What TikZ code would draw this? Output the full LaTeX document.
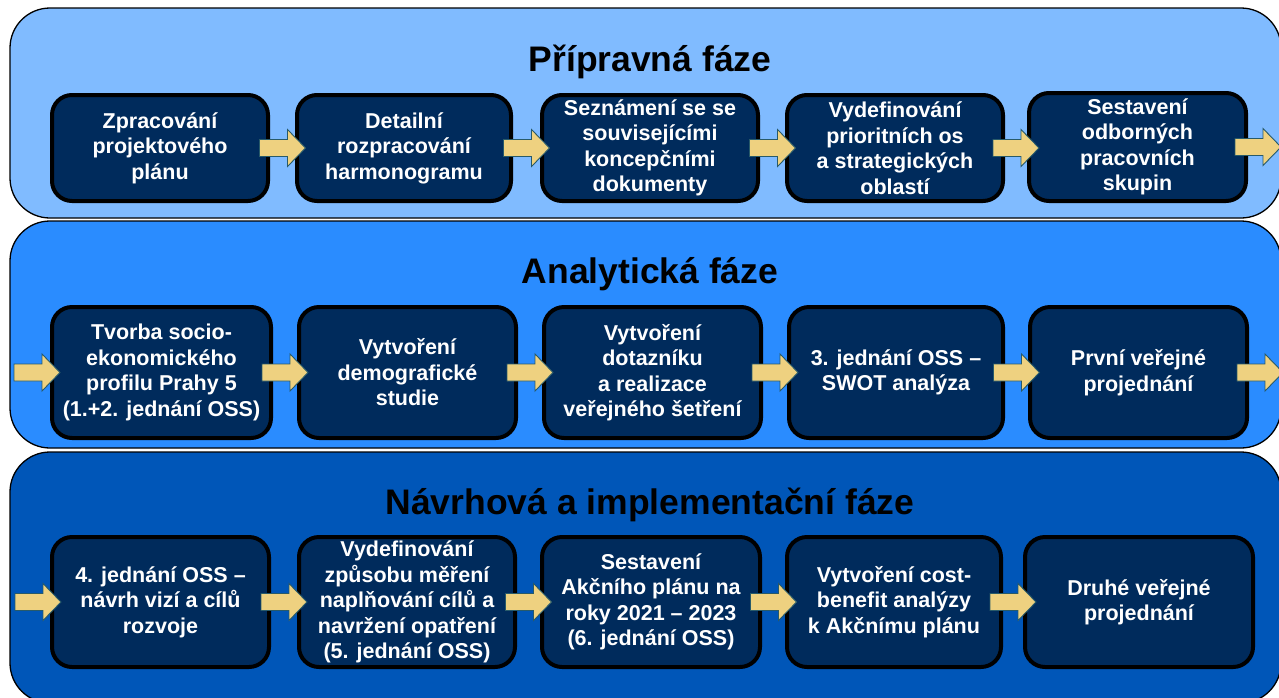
\documentclass[tikz,border=0pt]{standalone}
\usepackage{fontspec}
\setmainfont{Liberation Sans}
\usetikzlibrary{calc}
\definecolor{bandA}{RGB}{128,187,255}
\definecolor{bandB}{RGB}{42,140,255}
\definecolor{bandC}{RGB}{0,86,184}
\definecolor{boxfill}{RGB}{0,43,92}
\definecolor{arrowfill}{RGB}{238,209,128}
\definecolor{arrowline}{RGB}{40,90,105}
\newcommand\boxfont{\fontsize{21.5}{25.5}\selectfont\bfseries}
\newcommand\titlefont{\fontsize{35.5}{40}\selectfont\bfseries}
\tikzset{
 band/.style={draw=black, line width=1.3pt, rounded corners=40pt},
 stepbox/.style={draw=black, line width=4pt, fill=boxfill, rounded corners=20pt, text=white, font=\boxfont, align=center, inner sep=0pt},
 phasetitle/.style={font=\titlefont, text=black, anchor=base},
 flowarrow/.style={fill=arrowfill, draw=arrowline, line width=0.9pt, line join=miter},
}
\newcommand\flow[2]{%
 \draw[flowarrow] let \p1=(#1), \p2=(#2), \p3=($(\p1)!0.5!(\p2)$) in
 (\x3-23pt,\y1+8.5pt) -- (\x3+5pt,\y1+8.5pt) -- (\x3+5pt,\y1+18.5pt) -- (\x3+23pt,\y1)
 -- (\x3+5pt,\y1-18.5pt) -- (\x3+5pt,\y1-8.5pt) -- (\x3-23pt,\y1-8.5pt) -- cycle;}
\begin{document}
\begin{tikzpicture}[x=1pt,y=-1pt]
\useasboundingbox (0,0) rectangle (1279,697);
\clip (0,0) rectangle (1279,697);
\fill[white] (0,0) rectangle (1279,697);
% bands
\path[band, fill=bandA] (10,8) rectangle (1281,218);
\path[band, fill=bandB] (10,221) rectangle (1281,448);
\path[band, fill=bandC] (10,452) rectangle (1281,703);
% titles
\node[phasetitle] (t1) at (650,71) {Přípravná fáze};
\node[phasetitle] (t2) at (650,283) {Analytická fáze};
\node[phasetitle] (t3) at (650,514) {Návrhová a implementační fáze};
% row 1
\node[stepbox, minimum width=216, minimum height=106] (r1a) at (160,148) {Zpracování\\projektového\\plánu};
\node[stepbox, minimum width=214, minimum height=106] (r1b) at (404,148) {Detailní\\rozpracování\\harmonogramu};
\node[stepbox, minimum width=216, minimum height=106] (r1c) at (650,148) {Seznámení se se\\souvisejícími\\koncepčními\\dokumenty};
\node[stepbox, minimum width=216, minimum height=106] (r1d) at (895,148) {Vydefinování\\prioritních os\\a strategických\\oblastí};
\node[stepbox, minimum width=217, minimum height=108] (r1e) at (1137.5,147) {Sestavení\\odborných\\pracovních\\skupin};
% row 2
\node[stepbox, minimum width=219, minimum height=131] (r2a) at (161.5,372.5) {Tvorba socio-\\ekonomického\\profilu Prahy 5\\(1.+2. jednání OSS)};
\node[stepbox, minimum width=217, minimum height=131] (r2b) at (407.5,372.5) {Vytvoření\\demografické\\studie};
\node[stepbox, minimum width=217, minimum height=131] (r2c) at (652.5,372.5) {Vytvoření\\dotazníku\\a realizace\\veřejného šetření};
\node[stepbox, minimum width=214, minimum height=131] (r2d) at (896,372.5) {3. jednání OSS –\\SWOT analýza};
\node[stepbox, minimum width=217, minimum height=131] (r2e) at (1138.5,372.5) {První veřejné\\projednání};
% row 3
\node[stepbox, minimum width=217, minimum height=130] (r3a) at (160.5,602) {4. jednání OSS –\\návrh vizí a cílů\\rozvoje};
\node[stepbox, minimum width=216, minimum height=130] (r3b) at (407,602) {Vydefinování\\způsobu měření\\naplňování cílů a\\navržení opatření\\(5. jednání OSS)};
\node[stepbox, minimum width=218, minimum height=130] (r3c) at (651,602) {Sestavení\\Akčního plánu na\\roky 2021 – 2023\\(6. jednání OSS)};
\node[stepbox, minimum width=214, minimum height=130] (r3d) at (894,602) {Vytvoření cost-\\benefit analýzy\\k Akčnímu plánu};
\node[stepbox, minimum width=228, minimum height=130] (r3e) at (1139,602) {Druhé veřejné\\projednání};
% free ends
\coordinate (out1) at (1268,148);
\coordinate (in2) at (24,372.5);
\coordinate (out2) at (1271,372.5);
\coordinate (in3) at (26,602);
% connectors
\flow{r1a.east}{r1b.west}
\flow{r1b.east}{r1c.west}
\flow{r1c.east}{r1d.west}
\flow{r1d.east}{r1e.west}
\flow{r1e.east}{out1}
\flow{in2}{r2a.west}
\flow{r2a.east}{r2b.west}
\flow{r2b.east}{r2c.west}
\flow{r2c.east}{r2d.west}
\flow{r2d.east}{r2e.west}
\flow{r2e.east}{out2}
\flow{in3}{r3a.west}
\flow{r3a.east}{r3b.west}
\flow{r3b.east}{r3c.west}
\flow{r3c.east}{r3d.west}
\flow{r3d.east}{r3e.west}
\end{tikzpicture}
\end{document}
